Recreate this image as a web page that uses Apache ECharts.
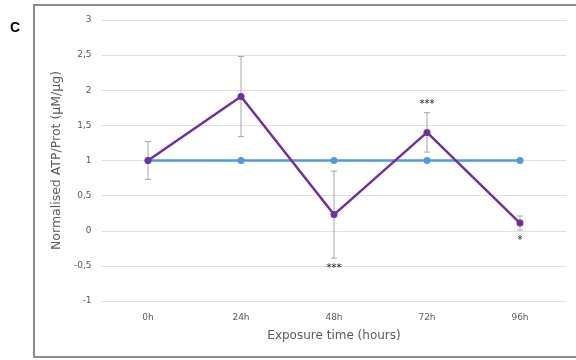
<!DOCTYPE html>
<html>
<head>
<meta charset="utf-8">
<script src="https://cdn.jsdelivr.net/npm/echarts@6/dist/echarts.min.js"></script>
<style>
  html, body { margin: 0; padding: 0; background: #fff; }
  #chart { width: 576px; height: 360px; }
</style>
</head>
<body>
<div id="chart"></div>
<script>
var categories = ['0h', '24h', '48h', '72h', '96h'];
var control = [1, 1, 1, 1, 1];
var treated = [1.0, 1.91, 0.23, 1.40, 0.11];
var treatedErr = [0.27, 0.57, 0.62, 0.28, 0.10];
var stars = ['', '', '***', '***', '*'];
var starSide = ['', '', 'below', 'above', 'below'];

var chart = echarts.init(document.getElementById('chart'));

var errData = treated.map(function (v, i) {
  return [i, v - treatedErr[i], v + treatedErr[i], stars[i], starSide[i]];
});

chart.setOption({
  animation: false,
  textStyle: { fontFamily: 'DejaVu Sans' },
  graphic: [
    { type: 'rect', shape: { x: 34, y: 5, width: 600, height: 352 },
      style: { fill: 'none', stroke: '#8c8c8c', lineWidth: 2 }, silent: true },
    { type: 'text', left: 10, top: 21,
      style: { text: 'C', font: 'bold 14px Liberation Sans', fill: '#000' } }
  ],
  grid: { left: 101.5, right: 9.5, top: 20, bottom: 59 },
  xAxis: {
    type: 'category',
    data: categories,
    axisLine: { show: false },
    axisTick: { show: false },
    axisLabel: { color: '#595959', fontSize: 9, margin: 12 },
    name: 'Exposure time (hours)',
    nameLocation: 'middle',
    nameGap: 29,
    nameTextStyle: { color: '#595959', fontSize: 12 }
  },
  yAxis: {
    type: 'value',
    min: -1, max: 3, interval: 0.5,
    axisLine: { show: false },
    axisTick: { show: false },
    axisLabel: {
      color: '#595959', fontSize: 9, margin: 10,
      formatter: function (v) { return String(v).replace('.', ','); }
    },
    splitLine: { lineStyle: { color: '#e0e0e0', width: 1 } },
    name: 'Normalised ATP/Prot (µM/µg)',
    nameLocation: 'middle',
    nameGap: 34,
    nameTextStyle: { color: '#595959', fontSize: 12.5 }
  },
  series: [
    {
      type: 'custom',
      z: 1,
      data: errData,
      renderItem: function (params, api) {
        var x = api.value(0);
        var lo = api.coord([x, api.value(1)]);
        var hi = api.coord([x, api.value(2)]);
        var cap = 3;
        var style = { stroke: '#a6a6a6', lineWidth: 1 };
        var children = [
          { type: 'line', shape: { x1: lo[0], y1: lo[1], x2: hi[0], y2: hi[1] }, style: style },
          { type: 'line', shape: { x1: lo[0] - cap, y1: lo[1], x2: lo[0] + cap, y2: lo[1] }, style: style },
          { type: 'line', shape: { x1: hi[0] - cap, y1: hi[1], x2: hi[0] + cap, y2: hi[1] }, style: style }
        ];
        var s = api.value(3);
        if (s) {
          var above = api.value(4) === 'above';
          children.push({
            type: 'text',
            style: {
              text: s, x: hi[0], y: above ? hi[1] - 3 : lo[1] + 5,
              align: 'center', verticalAlign: above ? 'bottom' : 'top',
              fill: '#222', font: '10px DejaVu Sans'
            }
          });
        }
        return { type: 'group', children: children };
      }
    },
    {
      name: 'control',
      type: 'line',
      z: 2,
      data: control,
      symbol: 'circle',
      symbolSize: 7,
      lineStyle: { color: '#4e9be0', width: 2.5 },
      itemStyle: { color: '#4e9be0' }
    },
    {
      name: 'treated',
      type: 'line',
      z: 3,
      data: treated,
      symbol: 'circle',
      symbolSize: 7,
      lineStyle: { color: '#7030a0', width: 2.5 },
      itemStyle: { color: '#7030a0' }
    }
  ]
});
</script>
</body>
</html>
